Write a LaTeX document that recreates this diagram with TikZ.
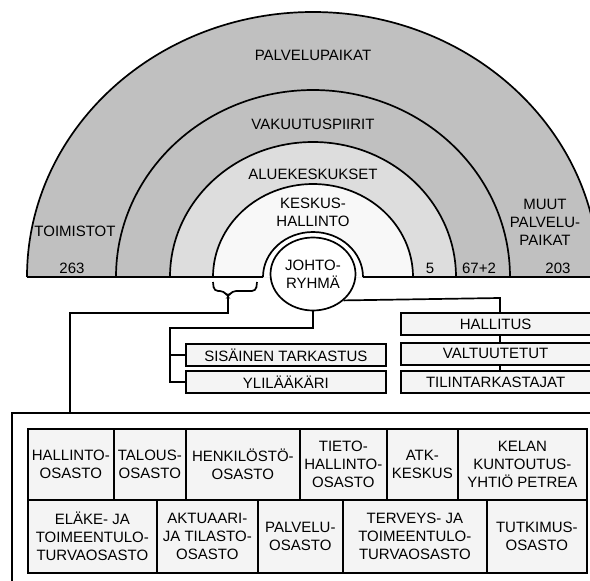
\documentclass[tikz,border=0pt]{standalone}
\usepackage{fontspec}
\setmainfont{Liberation Sans}
\usetikzlibrary{positioning, shapes.geometric}
\definecolor{bandgray}{HTML}{C0C0C0}
\definecolor{bandlight}{HTML}{DDDDDD}
\definecolor{corewhite}{HTML}{F8F8F8}
\definecolor{boxfill}{HTML}{F4F4F4}
\tikzset{
	orgbox/.style={
			shape=rectangle,
			draw=black,
			fill=boxfill,
			anchor=north west,
			minimum height=22pt,
			inner sep=0pt
		},
	osasto/.style={
			orgbox,
			align=center,
			minimum height=71pt
		},
	osastolow/.style={
			osasto,
			minimum height=73pt
		},
	johtonode/.style={
			ellipse,
			draw=black,
			fill=white,
			minimum width=85pt,
			minimum height=73pt,
			inner sep=0pt,
			align=center
		},
	arctext/.style={align=center, inner sep=0pt}
}

\begin{document}
\begin{tikzpicture}[x=1pt, y=-1pt, line width=1.7pt, font=\fontsize{15}{18}\selectfont]
  \useasboundingbox (0,0) rectangle (590,581);
  \clip (0,0) rectangle (590,581);

  % half rings
  \fill[bandgray] (27,277) arc[start angle=180, end angle=0, x radius=286pt, y radius=265pt] -- cycle;
  \fill[bandgray] (116,277) arc[start angle=180, end angle=0, x radius=197pt, y radius=187pt] -- cycle;
  \fill[bandlight] (170,277) arc[start angle=180, end angle=0, x radius=143pt, y radius=135pt] -- cycle;
  \fill[corewhite] (213,277) arc[start angle=180, end angle=0, x radius=100pt, y radius=93pt] -- cycle;
  \fill[white] (263,277) arc[start angle=180, end angle=0, x radius=50pt, y radius=45pt] -- cycle;

  \draw (27,277) arc[start angle=180, end angle=0, x radius=286pt, y radius=265pt];
  \draw (116,277) arc[start angle=180, end angle=0, x radius=197pt, y radius=187pt];
  \draw (170,277) arc[start angle=180, end angle=0, x radius=143pt, y radius=135pt];
  \draw (213,277) arc[start angle=180, end angle=0, x radius=100pt, y radius=93pt];
  \draw (263,277) arc[start angle=180, end angle=0, x radius=50pt, y radius=45pt];
  \draw (27,277) -- (263,277);
  \draw (363,277) -- (600,277);

  \node[arctext] (palvelupaikat) at (313,55) {PALVELUPAIKAT};
  \node[arctext] (vakuutuspiirit) at (313,124) {VAKUUTUSPIIRIT};
  \node[arctext] (aluekeskukset) at (313,174) {ALUEKESKUKSET};
  \node[arctext] (keskushallinto) at (313,212) {KESKUS-\\HALLINTO};
  \node[arctext] (toimistot) at (75,231) {TOIMISTOT};
  \node[arctext] (muut) at (545,222) {MUUT\\PALVELU-\\PAIKAT};
  \node[arctext] (n263) at (72,268) {263};
  \node[arctext] (n5) at (430,268) {5};
  \node[arctext] (n67) at (479,268) {67+2};
  \node[arctext] (n203) at (558,268) {203};

  \node[johtonode] (johto) at (313,274) {\raisebox{-5pt}{\shortstack{JOHTO-\\[2pt]RYHMÄ}}};

  % brace under keskushallinto
  \coordinate (bl) at (213,282);
  \coordinate (br) at (257,282);
  \coordinate (bracetip) at (228,297);
  \coordinate (knee) at (228,313);
  \coordinate (frametop) at (70,413);
  \draw[rounded corners=4pt] (bl) -- (214,291) -- (224,291) -- (bracetip) -- (232,291) -- (256,291) -- (br);
  \draw (bracetip) -- (knee) -| (frametop);

  % boxes under johtoryhmä
  \node[orgbox, minimum width=200pt] (sisainen) at (185,343) {SISÄINEN TARKASTUS};
  \node[orgbox, minimum width=200pt] (ylilaakari) at (185,370) {YLILÄÄKÄRI};
  \node[orgbox, minimum width=189.5pt] (hallitus) at (400,312) {HALLITUS};
  \node[orgbox, minimum width=189.5pt] (valtuutetut) at (400,342) {VALTUUTETUT};
  \node[orgbox, minimum width=189.5pt] (tilintarkastajat) at (400,370) {TILINTARKASTAJAT};

  \coordinate (lbus) at (170,328);
  \coordinate (rbus) at (500,298);
  \draw (johto.south) |- (lbus) |- (ylilaakari.west);
  \draw (lbus |- sisainen.west) -- (sisainen.west);
  \draw (johto.south east) -- (rbus) -- (rbus |- hallitus.north);
  \draw (rbus |- hallitus.south) -- (rbus |- valtuutetut.north);
  \draw (rbus |- valtuutetut.south) -- (rbus |- tilintarkastajat.north);

  % osastot
  \draw (12,600) |- (600,413);
  \node[osasto, minimum width=86pt] (hallinto) at (27,428) {HALLINTO-\\OSASTO};
  \node[osasto, minimum width=72pt] (talous) at (113,428) {TALOUS-\\OSASTO};
  \node[osasto, minimum width=114pt] (henkilosto) at (185,428) {HENKILÖSTÖ-\\OSASTO};
  \node[osasto, minimum width=87pt] (tieto) at (299,428) {TIETO-\\HALLINTO-\\OSASTO};
  \node[osasto, minimum width=71pt] (atk) at (386,428) {ATK-\\KESKUS};
  \node[osasto, minimum width=129pt] (petrea) at (457,428) {KELAN\\KUNTOUTUS-\\YHTIÖ PETREA};
  \node[osastolow, minimum width=129pt] (elake) at (27,499) {ELÄKE- JA\\TOIMEENTULO-\\TURVAOSASTO};
  \node[osastolow, minimum width=101pt] (aktuaari) at (156,499) {AKTUAARI-\\JA TILASTO-\\OSASTO};
  \node[osastolow, minimum width=85pt] (palvelu) at (257,499) {PALVELU-\\OSASTO};
  \node[osastolow, minimum width=144pt] (terveys) at (342,499) {TERVEYS- JA\\TOIMEENTULO-\\TURVAOSASTO};
  \node[osastolow, minimum width=100pt] (tutkimus) at (486,499) {TUTKIMUS-\\OSASTO};

\end{tikzpicture}
\end{document}
